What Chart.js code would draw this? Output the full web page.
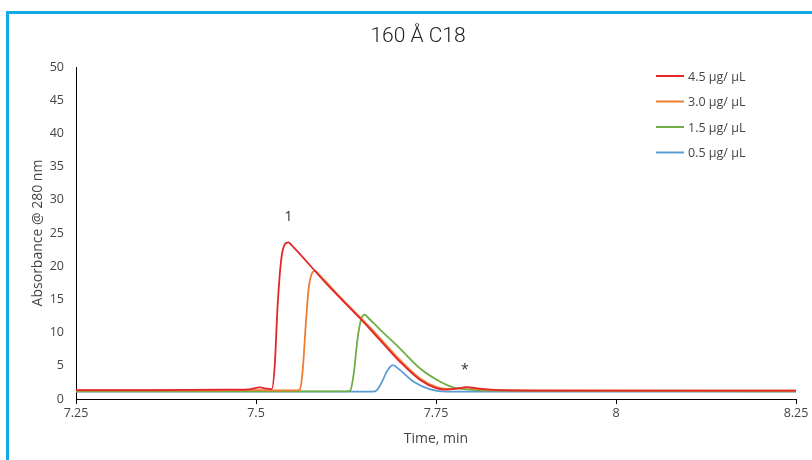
<!DOCTYPE html>
<html>
<head>
<meta charset="utf-8">
<script src="https://cdn.jsdelivr.net/npm/chart.js@4"></script>
<style>
  html, body { margin: 0; padding: 0; background: #fff; overflow: hidden; }
  #wrap { position: relative; width: 812px; height: 460px; }
  #frame { position: absolute; left: 6px; top: 11px; width: 830px; height: 470px;
           border-left: 3px solid #14a9e5; border-top: 3px solid #14a9e5; pointer-events: none; }
</style>
</head>
<body>
<div id="wrap">
  <canvas id="chrom"></canvas>
  <div id="frame"></div>
</div>
<script>
const chartTitle = '160 Å C18'
const seriesLabels = ['4.5 μg/ μL', '3.0 μg/ μL', '1.5 μg/ μL', '0.5 μg/ μL']
const seriesColors = ['#e3262b', '#ed7d31', '#70ad47', '#5b9bd5']

const redTime = [7.25, 7.35, 7.45, 7.49, 7.505, 7.515, 7.522, 7.526, 7.530, 7.535, 7.540, 7.545, 7.550, 7.60, 7.644, 7.672, 7.70, 7.728, 7.751, 7.765, 7.78, 7.793, 7.81, 7.84, 8.0, 8.25]
const redAbs  = [1.35, 1.35, 1.4, 1.45, 1.75, 1.55, 1.5, 5.0, 14.0, 21.0, 23.3, 23.6, 23.1, 17.1, 12.2, 8.9, 5.6, 2.86, 1.6, 1.4, 1.6, 1.8, 1.55, 1.35, 1.25, 1.25]

const orangeTime = [7.25, 7.45, 7.50, 7.52, 7.556, 7.561, 7.565, 7.569, 7.573, 7.578, 7.582, 7.587, 7.62, 7.66, 7.70, 7.728, 7.751, 7.77, 7.793, 7.81, 7.84, 8.25]
const orangeAbs  = [1.3, 1.3, 1.35, 1.3, 1.3, 1.45, 4.5, 11.0, 16.5, 19.0, 19.3, 18.8, 15.0, 10.6, 5.9, 3.1, 1.8, 1.5, 1.7, 1.45, 1.3, 1.25]

const greenTime = [7.25, 7.55, 7.626, 7.631, 7.636, 7.641, 7.646, 7.651, 7.656, 7.672, 7.70, 7.728, 7.756, 7.774, 7.793, 7.82, 8.25]
const greenAbs  = [1.15, 1.15, 1.15, 1.3, 4.0, 9.0, 12.0, 12.7, 12.2, 10.5, 7.6, 4.6, 2.6, 1.75, 1.45, 1.25, 1.15]

const blueTime = [7.25, 7.60, 7.662, 7.668, 7.675, 7.682, 7.69, 7.695, 7.719, 7.742, 7.765, 8.25]
const blueAbs  = [1.1, 1.1, 1.1, 1.35, 2.6, 4.2, 5.1, 4.8, 2.6, 1.45, 1.1, 1.1]

const xTicks = [7.25, 7.5, 7.75, 8, 8.25]
const peakNotes = [{ text: '1', x: 7.545, y: 27.4 }, { text: '*', x: 7.79, y: 4.4 }]

const times = [redTime, orangeTime, greenTime, blueTime]
const values = [redAbs, orangeAbs, greenAbs, blueAbs]

const labelFont = "'Open Sans', 'Noto Sans', sans-serif"

// title, legend box and peak labels drawn on top of the plot
const overlay = {
  id: 'overlay',
  afterDatasetsDraw(chart) {
    const ctx = chart.ctx
    const xs = chart.scales.x, ys = chart.scales.y
    ctx.save()
    ctx.textAlign = 'center'
    ctx.textBaseline = 'middle'
    ctx.fillStyle = '#222'
    ctx.font = "300 21px Roboto, 'Open Sans', sans-serif"
    ctx.fillText(chartTitle, 418, 37)

    ctx.fillStyle = '#333'
    ctx.font = "14px " + labelFont
    peakNotes.forEach(n => ctx.fillText(n.text, xs.getPixelForValue(n.x), ys.getPixelForValue(n.y)))

    ctx.textAlign = 'left'
    ctx.font = "12.5px " + labelFont
    seriesLabels.forEach((lab, i) => {
      const y = 76 + i * 25.5
      ctx.strokeStyle = seriesColors[i]
      ctx.lineWidth = 2
      ctx.beginPath()
      ctx.moveTo(656, y)
      ctx.lineTo(684, y)
      ctx.stroke()
      ctx.fillStyle = '#444'
      ctx.fillText(lab, 688, y + 1)
    })
    ctx.restore()
  }
}

new Chart(document.getElementById('chrom'), {
  type: 'line',
  data: {
    datasets: seriesLabels.map((lab, i) => ({
      label: lab,
      data: times[i].map((t, k) => ({ x: t, y: values[i][k] })),
      borderColor: seriesColors[i],
      borderWidth: 1.8,
      pointRadius: 0,
      cubicInterpolationMode: 'monotone',
      fill: false
    }))
  },
  options: {
    responsive: true,
    maintainAspectRatio: false,
    animation: false,
    devicePixelRatio: 1,
    layout: { padding: { left: 0, right: 16, top: 67, bottom: 0 } },
    scales: {
      x: {
        type: 'linear',
        min: 7.25,
        max: 8.25,
        afterBuildTicks: s => { s.ticks = xTicks.map(v => ({ value: v })) },
        afterFit: s => { s.height = 61 },
        grid: { display: true, drawOnChartArea: false, drawTicks: true, tickLength: 5, color: '#000' },
        border: { display: true, color: '#000', width: 1 },
        ticks: { color: '#444', padding: 2, font: { size: 12.5, family: labelFont }, maxRotation: 0, callback: v => String(v) },
        title: { display: true, text: 'Time, min', color: '#444', font: { size: 14, family: labelFont }, padding: { top: 0, bottom: 13 } }
      },
      y: {
        min: 0,
        max: 50,
        afterFit: s => { s.width = 76 },
        ticks: { stepSize: 5, color: '#444', padding: 12, font: { size: 12.5, family: labelFont } },
        grid: { display: false, drawTicks: false },
        border: { display: true, color: '#000', width: 1 },
        title: { display: true, text: 'Absorbance @ 280 nm', color: '#444', font: { size: 14, family: labelFont }, padding: { top: 30, bottom: 0 } }
      }
    },
    plugins: {
      legend: { display: false },
      tooltip: { enabled: false },
      title: { display: false }
    }
  },
  plugins: [overlay]
})
</script>
</body>
</html>
